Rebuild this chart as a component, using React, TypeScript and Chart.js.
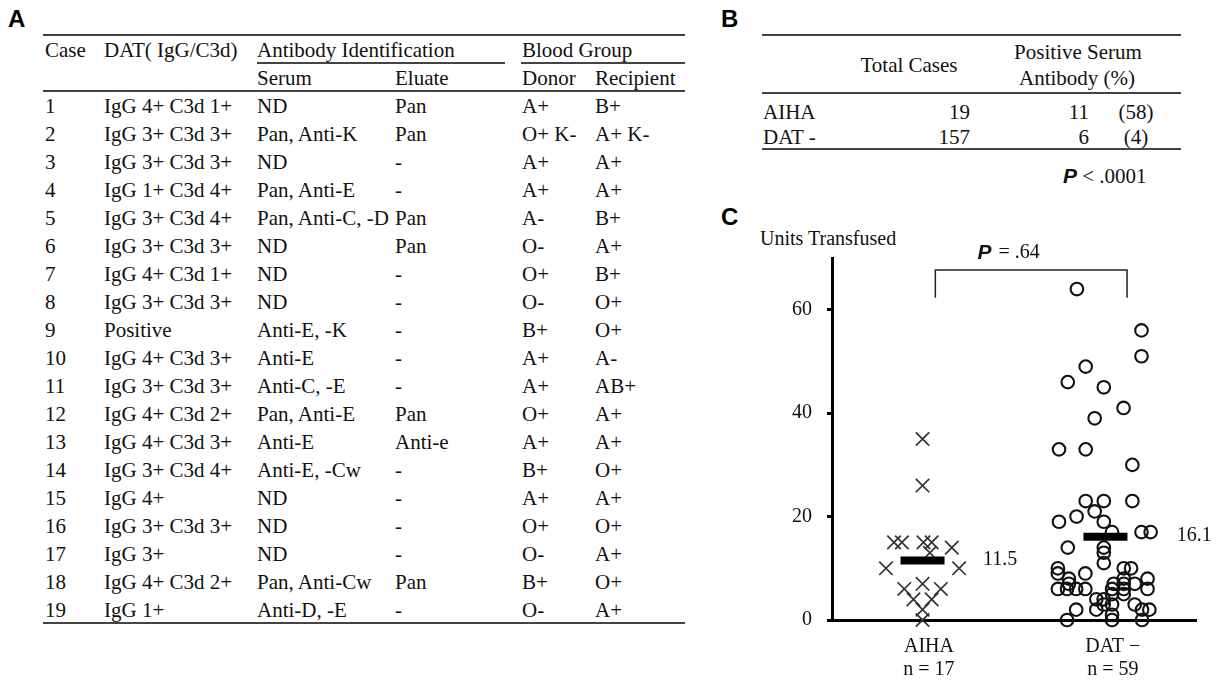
import React, { useEffect, useRef } from "react";
import { Chart, registerables } from "chart.js";
Chart.register(...registerables);

// ---------- Panel A data ----------
const caseNums = ["1","2","3","4","5","6","7","8","9","10","11","12","13","14","15","16","17","18","19"];
const datResults = ["IgG 4+ C3d 1+","IgG 3+ C3d 3+","IgG 3+ C3d 3+","IgG 1+ C3d 4+","IgG 3+ C3d 4+","IgG 3+ C3d 3+","IgG 4+ C3d 1+","IgG 3+ C3d 3+","Positive","IgG 4+ C3d 3+","IgG 3+ C3d 3+","IgG 4+ C3d 2+","IgG 4+ C3d 3+","IgG 3+ C3d 4+","IgG 4+","IgG 3+ C3d 3+","IgG 3+","IgG 4+ C3d 2+","IgG 1+"];
const serumAb = ["ND","Pan, Anti-K","ND","Pan, Anti-E","Pan, Anti-C, -D","ND","ND","ND","Anti-E, -K","Anti-E","Anti-C, -E","Pan, Anti-E","Anti-E","Anti-E, -Cw","ND","ND","ND","Pan, Anti-Cw","Anti-D, -E"];
const eluateAb = ["Pan","Pan","-","-","Pan","Pan","-","-","-","-","-","Pan","Anti-e","-","-","-","-","Pan","-"];
const donorGroup = ["A+","O+ K-","A+","A+","A-","O-","O+","O-","B+","A+","A+","O+","A+","B+","A+","O+","O-","B+","O-"];
const recipientGroup = ["B+","A+ K-","A+","A+","B+","A+","B+","O+","O+","A-","AB+","A+","A+","O+","A+","O+","A+","O+","A+"];

// ---------- Panel B data ----------
const groupsB = ["AIHA", "DAT -"];
const totalCases = [19, 157];
const positiveSerum = [11, 6];
const positivePct = [58, 4];

// ---------- Panel C data ----------
const xLabels = [["AIHA", "n = 17"], ["DAT \u2212", "n = 59"]];
const yTicks = [0, 20, 40, 60];
const aihaUnits = [35, 26, 15, 15, 15, 15, 14, 13, 10, 10, 7, 6, 6, 4, 4, 2, 0];
const aihaXOffset = [0, 0, -0.156, -0.113, 0.005, 0.05, 0.16, 0.04, -0.2, 0.2, 0, -0.1, 0.1, -0.05, 0.05, 0, 0];
const datUnits = [64, 56, 51, 49, 46, 45, 41, 39, 33, 33, 30, 23, 23, 23, 21, 20, 19, 19, 17, 17, 17, 14, 14, 13, 11,
  10, 10, 10, 9, 8, 9, 8, 8, 7, 7, 6, 6, 6, 6, 6, 6, 6, 4, 4, 5, 5, 2, 2, 3, 3, 2, 2, 0, 0, 0, 7, 7, 1, 3];
const datXOffset = [-0.156, 0.197, 0.197, -0.108, -0.206, -0.009, 0.099, -0.059, -0.254, -0.108, 0.147, -0.108, -0.009, 0.147, -0.059, -0.158, -0.254, -0.009, 0.036, 0.197, 0.247, -0.206, -0.009, -0.009, -0.009,
  -0.26, 0.10, 0.14, -0.26, -0.20, -0.11, 0.10, 0.23, 0.045, 0.16, -0.26, -0.21, -0.16, -0.11, 0.036, 0.10, 0.23, -0.05, -0.01, 0.036, 0.10, -0.16, -0.05, 0.036, 0.16, 0.20, 0.24, -0.21, 0.036, 0.20, -0.20, 0.10, 0.036, -0.01];
const groupMeans = [11.5, 16.1];
const meanLabels = ["11.5", "16.1"];
const pValueC = ".64";

const SERIF = "'Liberation Serif', 'Times New Roman', serif";
const SANS = "'Liberation Sans', Arial, sans-serif";
const TEXT = "#111";

function T({ x, y, a = "l", fs = 21, children, style }: any) {
  const tx = a === "l" ? "0" : a === "c" ? "-50%" : "-100%";
  return (
    <div style={{ position: "absolute", left: x, top: y - fs * 0.5, fontSize: fs, lineHeight: `${fs}px`, whiteSpace: "nowrap", transform: `translateX(${tx})`, ...style }}>
      {children}
    </div>
  );
}
function Rule({ x1, x2, y }: any) {
  return <div style={{ position: "absolute", left: x1, top: y - 0.75, width: x2 - x1, height: 1.5, background: "#444" }} />;
}
function Letter({ x, y, children }: any) {
  return <div style={{ position: "absolute", left: x, top: y, fontFamily: SANS, fontWeight: 700, fontSize: 24, lineHeight: "24px", color: "#000" }}>{children}</div>;
}
function PItal() {
  return <span style={{ fontFamily: SANS, fontWeight: 700, fontStyle: "italic" }}>P</span>;
}

function ScatterC() {
  const ref = useRef<HTMLCanvasElement>(null);
  useEffect(() => {
    const canvas = ref.current!;
    const annot = {
      id: "annot",
      afterDraw(chart: any) {
        const { ctx, scales } = chart;
        const x = scales.x, y = scales.y;
        ctx.save();
        const bx1 = x.getPixelForValue(1.07), bx2 = x.getPixelForValue(2.118);
        const byT = y.getPixelForValue(67.7), byB = y.getPixelForValue(62.3);
        ctx.strokeStyle = "#222";
        ctx.lineWidth = 1.5;
        ctx.beginPath();
        ctx.moveTo(bx1, byB); ctx.lineTo(bx1, byT); ctx.lineTo(bx2, byT); ctx.lineTo(bx2, byB);
        ctx.stroke();
        ctx.fillStyle = TEXT;
        ctx.textBaseline = "middle";
        ctx.textAlign = "left";
        const px = x.getPixelForValue(1.3), py = byT - 17;
        ctx.font = `italic 700 21px ${SANS}`;
        ctx.fillText("P", px, py);
        const pw = ctx.measureText("P").width;
        ctx.font = `20px ${SERIF}`;
        ctx.fillText(" = " + pValueC, px + pw + 2, py);
        const shifts = [0.33, 0.39];
        groupMeans.forEach((m, i) => {
          ctx.fillText(meanLabels[i], x.getPixelForValue(i + 1 + shifts[i]), y.getPixelForValue(m) - 1);
        });
        ctx.restore();
      },
    };
    const chart = new Chart(canvas, {
      type: "scatter",
      data: {
        datasets: [
          {
            label: "Mean",
            data: groupMeans.map((m, i) => ({ x: i + 1, y: m })),
            pointStyle: "line", pointRadius: 22, pointHoverRadius: 22, borderWidth: 8, pointBorderWidth: 8,
            borderColor: "#000", backgroundColor: "#000", order: 0, clip: false,
          } as any,
          {
            label: "AIHA",
            data: aihaUnits.map((v, i) => ({ x: 1 + aihaXOffset[i], y: v })),
            pointStyle: "crossRot", pointRadius: 9.5, pointHoverRadius: 9.5, borderWidth: 1.7,
            borderColor: "#333", backgroundColor: "#333", order: 1, clip: false,
          } as any,
          {
            label: "DAT -",
            data: datUnits.map((v, i) => ({ x: 2 + datXOffset[i], y: v })),
            pointStyle: "circle", pointRadius: 6.3, pointHoverRadius: 6.3, borderWidth: 2.1,
            borderColor: "#111", backgroundColor: "rgba(0,0,0,0)", order: 1, clip: false,
          } as any,
        ],
      },
      options: {
        responsive: false,
        animation: false,
        events: [],
        layout: { padding: { left: 62, top: 58, right: 24, bottom: 0 } },
        plugins: { legend: { display: false }, tooltip: { enabled: false } },
        scales: {
          x: {
            type: "linear", min: 0.505, max: 2.495,
            afterBuildTicks: (s: any) => { s.ticks = [1.035, 2.04].map((v) => ({ value: v })); },
            afterFit: (s: any) => { s.height = 61; },
            grid: { display: false, drawTicks: false },
            border: { display: true, color: "#000", width: 3 },
            ticks: {
              color: TEXT, font: { family: SERIF, size: 20, lineHeight: 1.15 }, padding: 15,
              maxRotation: 0, autoSkip: false,
              callback: (_v: any, i: number) => xLabels[i],
            },
          },
          y: {
            type: "linear", min: 0, max: 70,
            afterBuildTicks: (s: any) => { s.ticks = yTicks.map((v) => ({ value: v })); },
            afterFit: (s: any) => { s.width = 50; },
            grid: { display: true, drawOnChartArea: false, drawTicks: true, tickLength: 5, tickWidth: 3, tickColor: "#000" },
            border: { display: true, color: "#000", width: 3 },
            ticks: { color: TEXT, font: { family: SERIF, size: 20 }, padding: 15, callback: (v: any) => String(v) },
          },
        },
      } as any,
      plugins: [annot],
    });
    return () => chart.destroy();
  }, []);
  return <canvas ref={ref} width={506} height={481} style={{ position: "absolute", left: 720, top: 200, width: 506, height: 481 }} />;
}

export default function App() {
  const colX = [45, 104, 257, 395, 522, 595];
  const rowY = (i: number) => 106 + 28 * i;
  return (
    <div style={{ position: "absolute", left: 0, top: 0, width: 1226, height: 681, background: "#fff", fontFamily: SERIF, color: TEXT, overflow: "hidden" }}>
      {/* Panel A */}
      <Letter x={8} y={7}>A</Letter>
      <Rule x1={43} x2={685} y={35} />
      <T x={colX[0]} y={50}>Case</T>
      <T x={colX[1]} y={50}>DAT( IgG/C3d)</T>
      <T x={colX[2]} y={50}>Antibody Identification</T>
      <T x={colX[4]} y={50}>Blood Group</T>
      <Rule x1={257} x2={505} y={63} />
      <Rule x1={521} x2={685} y={63} />
      <T x={colX[2]} y={78}>Serum</T>
      <T x={colX[3]} y={78}>Eluate</T>
      <T x={colX[4]} y={78}>Donor</T>
      <T x={colX[5]} y={78}>Recipient</T>
      <Rule x1={43} x2={685} y={91} />
      {caseNums.map((c, i) => (
        <React.Fragment key={c}>
          <T x={colX[0]} y={rowY(i)}>{c}</T>
          <T x={colX[1]} y={rowY(i)}>{datResults[i]}</T>
          <T x={colX[2]} y={rowY(i)}>{serumAb[i]}</T>
          <T x={colX[3]} y={rowY(i)}>{eluateAb[i]}</T>
          <T x={colX[4]} y={rowY(i)}>{donorGroup[i]}</T>
          <T x={colX[5]} y={rowY(i)}>{recipientGroup[i]}</T>
        </React.Fragment>
      ))}
      <Rule x1={43} x2={685} y={623} />

      {/* Panel B */}
      <Letter x={721} y={7}>B</Letter>
      <Rule x1={762} x2={1181} y={35} />
      <T x={909} y={65} a="c">Total Cases</T>
      <T x={1078} y={52} a="c">Positive Serum</T>
      <T x={1077} y={78} a="c">Antibody (%)</T>
      <Rule x1={762} x2={1181} y={93} />
      {groupsB.map((g, i) => (
        <React.Fragment key={g}>
          <T x={763} y={112 + 25 * i}>{g}</T>
          <T x={970} y={112 + 25 * i} a="r">{totalCases[i]}</T>
          <T x={1089} y={112 + 25 * i} a="r">{positiveSerum[i]}</T>
          <T x={1136} y={112 + 25 * i} a="c">({positivePct[i]})</T>
        </React.Fragment>
      ))}
      <Rule x1={762} x2={1181} y={149} />
      <T x={1063} y={175}><PItal /> &lt; .0001</T>

      {/* Panel C */}
      <Letter x={721} y={205}>C</Letter>
      <T x={760} y={238} fs={20}>Units Transfused</T>
      <ScatterC />
    </div>
  );
}
